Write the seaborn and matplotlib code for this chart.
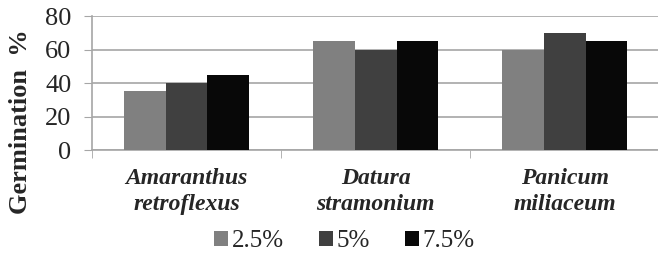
import pandas as pd
import matplotlib.pyplot as plt
import seaborn as sns

species = ['Amaranthus\nretroflexus', 'Datura\nstramonium', 'Panicum\nmiliaceum']
doses = ['2.5%', '5%', '7.5%']
v_25 = [35, 65, 60]
v_5 = [40, 60, 70]
v_75 = [45, 65, 65]

df = pd.DataFrame({
    'species': species * 3,
    'dose': [d for d in doses for _ in species],
    'germ': v_25 + v_5 + v_75,
})

sns.set_style('white')
plt.rcParams['font.family'] = 'serif'
plt.rcParams['font.serif'] = ['Liberation Serif', 'Times New Roman', 'DejaVu Serif']

fig = plt.figure(figsize=(6.58, 2.69), dpi=100)
ax = fig.add_axes([0.14, 0.442, 0.862, 0.498])

sns.barplot(x='species', y='germ', hue='dose', data=df, ax=ax,
            palette=['#808080', '#404040', '#080808'], width=0.66,
            saturation=1, edgecolor='none', zorder=3)

ax.set_ylim(0, 80)
ax.set_yticks([0, 20, 40, 60, 80])
ax.set_xlim(-0.5, 2.5)
ax.grid(axis='y', color='#a6a6a6', linewidth=1.2, zorder=0)
for s in ['top', 'right']:
    ax.spines[s].set_visible(False)
ax.spines['left'].set_color('#a6a6a6')
ax.spines['bottom'].set_color('#a6a6a6')
ax.spines['left'].set_linewidth(1.2)
ax.spines['bottom'].set_linewidth(1.2)

ax.tick_params(axis='y', labelsize=19, length=6, color='#a6a6a6', left=True, pad=9)
ax.set_xticks([0, 1, 2])
ax.set_xticklabels(species, fontsize=17, fontweight='bold', fontstyle='italic',
                   linespacing=1.3)
ax.tick_params(axis='x', length=0, pad=13)
ax.set_xticks([-0.5, 0.5, 1.5, 2.5], minor=True)
ax.tick_params(axis='x', which='minor', bottom=True, length=6, color='#a6a6a6')

ax.set_xlabel('')
ax.set_ylabel('Germination  %', fontsize=19, fontweight='bold')
ax.yaxis.set_label_coords(-0.106, 0.21)

ax.legend(title=None, loc='center', bbox_to_anchor=(0.445, -0.68), ncol=3,
          frameon=False, fontsize=18, handlelength=0.55, handleheight=0.55,
          handletextpad=0.15, columnspacing=1.4)

fig.savefig('out.png', dpi=100)
